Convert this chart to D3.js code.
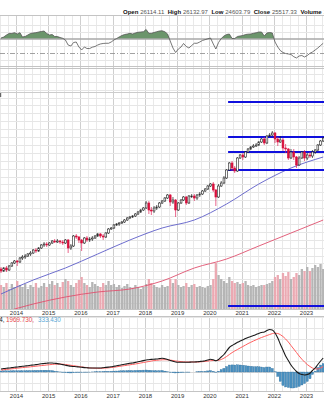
<!DOCTYPE html>
<html><head><meta charset="utf-8">
<script src="https://cdn.jsdelivr.net/npm/d3@7"></script>
<style>body{margin:0;background:#fff;overflow:hidden}svg{display:block}</style>
</head><body><svg id="c" width="324" height="400"></svg>
<script>
// ---------- DATA (monthly, Jul 2013 .. Jul 2023) ----------
const firstMonth = [2013, 6];
const opens = [12300,12100,12400,12200,12600,12900,13100,13000,13400,13500,
13600,13800,13900,14200,14100,14400,14700,14800,14700,14900,
15100,15000,15100,15000,14900,15200,14400,14600,15600,15500,
15200,14900,15400,15200,15300,15400,15600,15800,15600,15500,
15900,16300,16400,16700,16800,16900,17000,17200,17400,17500,
17600,17800,18000,18200,18400,18900,18200,18100,18400,18500,
18900,19100,19400,19700,19000,19200,18200,18900,19200,19500,
18900,19600,19600,19400,19700,19800,20100,20300,20600,20800,
20200,19500,20600,20900,21400,22200,22900,22400,22100,23400,
23700,23500,24000,24300,24500,24600,24700,25000,25300,24900,
25600,25700,25900,25300,25000,25200,24400,24300,23400,24000,
23500,22700,23400,24000,23400,23700,23600,24000,24200,24700,
25100];
const highs = [12500,12500,12600,12700,13000,13200,13200,13500,13700,13800,
13900,14100,14300,14400,14500,14800,15000,15000,15000,15200,
15300,15300,15200,15200,15300,15300,14800,15700,15800,15600,
15300,15500,15600,15500,15600,15700,15900,15900,15800,16000,
16400,16500,16800,16900,17000,17100,17300,17500,17600,17700,
17900,18100,18300,18500,19100,19100,18500,18600,18700,19000,
19200,19500,19800,19800,19500,19300,19000,19300,19600,19600,
19700,19800,19800,19800,20000,20200,20400,20700,20900,21000,
20300,20800,21100,21600,22300,23000,23100,22600,23500,23800,
23900,24100,24400,24600,24800,24900,25100,25400,25500,25700,
25900,26100,26000,25500,25600,25400,24800,24400,24300,24300,
23600,23600,24100,24200,23900,24000,24200,24300,24800,25200,
25500];
const lows = [11900,12000,12000,12100,12500,12800,12600,12900,13200,13300,
13500,13600,13800,13900,14000,14300,14500,14500,14600,14800,
14900,14900,14800,14700,14800,13900,14200,14500,15300,14900,
14100,14800,15000,15000,15100,15300,15500,15400,15200,15400,
15800,16200,16300,16600,16600,16800,16900,17100,17300,17400,
17500,17700,17900,18100,18300,17800,17700,17900,18200,18400,
18800,19000,19300,18600,18800,17500,18100,18800,19100,18700,
18800,19400,19100,19200,19500,19700,20000,20200,20500,20000,
18600,19400,20500,20800,21300,22100,22100,21900,22000,23300,
23200,23400,23900,24200,24400,24500,24600,24900,24700,24800,
25500,25600,24900,24600,24900,24100,23900,23200,23300,23200,
22400,22600,23300,23100,23200,23400,23400,23800,24100,24600,
25000];
const closes = [12100,12400,12200,12600,12900,13100,13000,13400,13500,13600,
13800,13900,14200,14100,14400,14700,14800,14700,14900,15100,
15000,15100,15000,14900,15200,14400,14600,15600,15500,15200,
14900,15400,15200,15300,15400,15600,15800,15600,15500,15900,
16300,16400,16700,16800,16900,17000,17200,17400,17500,17600,
17800,18000,18200,18400,18900,18200,18100,18400,18500,18900,
19100,19400,19700,19000,19200,18200,18900,19200,19500,18900,
19600,19600,19400,19700,19800,20100,20300,20600,20800,20200,
19500,20600,20900,21400,22200,22900,22400,22100,23400,23700,
23500,24000,24300,24500,24600,24700,25000,25300,24900,25600,
25700,25900,25300,25000,25200,24400,24300,23400,24000,23500,
22700,23400,24000,23400,23700,23600,24000,24200,24700,25100,
25400];
const volumes = [240,220,260,200,250,220,
280,240,220,250,200,240,220,260,210,230,260,220,
250,280,240,260,220,270,300,280,240,220,260,290,
320,260,240,220,270,250,230,220,260,240,280,240,
250,220,240,210,230,250,220,210,240,220,200,220,
250,300,260,240,220,210,240,220,230,300,260,300,
240,220,230,260,220,240,250,220,230,220,210,230,
240,300,460,340,300,280,260,320,280,260,270,250,
260,280,240,230,240,220,230,240,240,250,260,280,
320,340,300,360,330,370,300,320,360,340,400,380,
420,380,410,440,420,450,400];
// moving averages read at yearly points (month index)
const maIndex = [0,12,24,36,48,60,72,84,96,108,120];
const maBlue  = [9800,11200,12400,13800,15200,16400,17200,18800,20800,22400,23500];
const maRed   = [7900,8800,9500,10000,10300,11100,12400,13300,14600,15900,17200];
// horizontal level lines
const levels = [29000,25500,24000,22200];
const levelStart = [2020,7], levelEnd = [2023,8];
const volumeLevel = 30;
// upper indicator
const osc = [51.4,52.9,55.7,57.9,57.9,59.0,57.1,59.0,52.9,53.6,
55.7,57.9,58.6,59.0,60.0,60.7,61.4,57.9,55.7,56.4,
53.6,53.6,52.1,51.0,48.6,41.4,40.0,45.0,45.7,38.6,
34.3,38.6,36.4,36.4,38.3,39.3,41.4,42.9,43.6,43.9,
43.9,45.7,48.6,50.7,52.9,55.0,56.4,57.1,58.1,57.1,
58.6,59.6,60.0,60.4,63.6,58.1,58.1,59.3,60.4,61.4,
61.7,60.4,57.1,47.1,37.1,30.7,35.7,38.6,43.6,39.3,
37.1,40.7,43.9,43.9,45.7,47.9,49.1,50.3,51.4,42.9,
35.7,45.0,50.7,54.3,56.4,57.1,50.7,50.7,53.6,54.3,
55.0,56.4,56.9,57.1,58.1,58.9,60.0,60.0,54.3,58.6,
59.3,58.6,45.7,38.6,33.6,30.7,29.3,28.6,27.9,24.7,
22.9,25.7,26.4,24.3,26.4,29.6,31.4,34.3,37.1,40.7,
43.9];
const oscMid = 50, oscLow = 30, oscGrid = [70,60,40,20];
// MACD
const macd = [150,175,190,200,220,240,250,270,285,300,
315,335,350,370,390,410,425,440,450,450,
435,420,400,370,340,310,285,275,265,250,
235,220,210,200,200,200,200,200,215,230,
245,260,285,310,335,360,385,410,435,450,
480,510,540,570,600,615,630,640,650,670,
690,660,620,575,535,500,490,490,490,490,
490,500,500,510,525,540,560,600,640,610,
560,625,750,875,1050,1225,1325,1400,1485,1550,
1610,1670,1720,1770,1820,1875,1930,1975,2000,2075,
2125,2100,1950,1700,1400,1100,800,575,350,175,
25,-75,-125,-150,-125,-65,75,200,375,550,
700];
const signal = [100,115,130,145,160,175,190,205,220,235,
245,260,275,290,305,320,335,350,365,380,
390,395,395,390,375,355,335,315,295,275,
255,235,220,205,195,190,185,185,190,200,
210,225,240,260,280,300,320,340,360,380,
400,425,450,475,500,525,550,570,585,600,
610,615,610,595,575,550,535,520,510,500,
500,500,500,500,505,515,530,545,565,575,
575,585,625,690,775,875,970,1050,1125,1200,
1275,1350,1420,1485,1550,1610,1670,1725,1775,1825,
1875,1920,1940,1925,1870,1775,1650,1500,1325,1150,
975,800,640,500,375,275,200,160,150,200,
275];
const hist = [50,60,60,55,60,65,60,65,65,65,
70,75,75,80,85,90,90,90,85,70,
45,25,5,-20,-35,-45,-50,-40,-30,-25,
-20,-15,-10,-5,5,10,15,15,25,30,
35,35,45,50,55,60,65,70,75,70,
80,85,90,95,100,90,80,70,65,70,
80,45,10,-20,-40,-50,-45,-30,-20,-10,
-10,0,0,10,20,25,30,55,75,35,
-15,40,125,185,275,350,355,350,360,350,
335,320,300,285,270,265,260,250,225,250,
250,180,10,-225,-470,-675,-750,-775,-800,-800,
-775,-725,-650,-575,-475,-340,-125,40,225,350,
425];
const macdLegend = ["2303.164,", "1969.730,", "333.430"];
const headerLabels = ["Open","High","Low","Close","Volume"];
const headerValues = ["26114.11","26132.97","24603.79","25517.33","1.1B"];

// ---------- DRAW ----------
const svg = d3.select("#c");
const W = 324;
const n = closes.length;
const dates = closes.map((_, i) => new Date(firstMonth[0], firstMonth[1] + i, 15));
const x = d3.scaleTime().domain([new Date(2014,0,1), new Date(2023,0,1)]).range([16,306]);
const yP = d3.scaleLinear().domain([8300,32500]).range([309,67]);
const yV = d3.scaleLinear().domain([0,1000]).range([309,209]);
const yR = d3.scaleLinear().domain([10,85]).range([67,14.5]);
const yM = d3.scaleLinear().domain([-900,2800]).range([390,316]);
const font = "Liberation Sans, Arial, sans-serif";

svg.append("rect").attr("width",W).attr("height",400).attr("fill","#fff");

const panels = [[15,67],[67,309],[316,391]];
const quarters = d3.timeMonth.every(3).range(x.invert(-10), x.invert(W+10));
const grid = svg.append("g").attr("shape-rendering","crispEdges");
panels.forEach(([t,b]) => {
  grid.append("g").selectAll("line").data(quarters).join("line")
    .attr("x1", d => Math.round(x(d))+0.5).attr("x2", d => Math.round(x(d))+0.5)
    .attr("y1", t).attr("y2", b)
    .attr("stroke", d => d.getMonth()===0 ? "#cfcfcf" : "#e9e9e9");
});
// horizontal grids
const priceGrid = d3.range(25500 - 790*22, 32500, 790);
grid.append("g").selectAll("line").data(priceGrid.filter(v=>yP(v)>68 && yP(v)<308)).join("line")
  .attr("x1",0).attr("x2",W).attr("y1",d=>Math.round(yP(d))+0.5).attr("y2",d=>Math.round(yP(d))+0.5)
  .attr("stroke","#e6e6e6");
grid.append("line").attr("x1",0).attr("x2",W).attr("y1",92.5).attr("y2",92.5).attr("stroke","#cccccc");
grid.append("g").selectAll("line").data(oscGrid).join("line")
  .attr("x1",0).attr("x2",W).attr("y1",d=>Math.round(yR(d))+0.5).attr("y2",d=>Math.round(yR(d))+0.5)
  .attr("stroke","#e6e6e6");
const macdGrid = d3.range(-550, 2800, 550);
grid.append("g").selectAll("line").data(macdGrid).join("line")
  .attr("x1",0).attr("x2",W).attr("y1",d=>Math.round(yM(d))+0.5).attr("y2",d=>Math.round(yM(d))+0.5)
  .attr("stroke", d => d===0 ? "#d8d8d8" : "#e6e6e6");
// panel borders
[15.5, 66.5, 68.5, 309.5, 316.5, 391.5].forEach(y => {
  grid.append("line").attr("x1",0).attr("x2",W).attr("y1",y).attr("y2",y).attr("stroke","#c4c4c4");
});

// ---------- upper oscillator ----------
const up = svg.append("g");
svg.append("clipPath").attr("id","aboveMid").append("rect")
  .attr("x",0).attr("y",0).attr("width",W).attr("height",yR(oscMid));
up.append("path").datum(d3.range(n))
  .attr("clip-path","url(#aboveMid)")
  .attr("d", d3.area().x(i=>x(dates[i])).y0(yR(oscMid)).y1(i=>yR(osc[i])))
  .attr("fill","#6b956b");
up.append("line").attr("x1",0).attr("x2",W).attr("y1",yR(oscMid)).attr("y2",yR(oscMid))
  .attr("stroke","#a8a8a8").attr("stroke-width",1.6);
up.append("line").attr("x1",0).attr("x2",W).attr("y1",Math.round(yR(oscLow))+0.5).attr("y2",Math.round(yR(oscLow))+0.5)
  .attr("stroke","#8a8a8a").attr("stroke-width",0.8).attr("stroke-dasharray","5,2,1,2");
up.append("path").datum(d3.range(n))
  .attr("d", d3.line().x(i=>x(dates[i])).y(i=>yR(osc[i])))
  .attr("fill","none").attr("stroke","#555").attr("stroke-width",0.8);

// ---------- main price panel ----------
svg.append("clipPath").attr("id","mainClip").append("rect")
  .attr("x",0).attr("y",69).attr("width",W).attr("height",240);
const main = svg.append("g").attr("clip-path","url(#mainClip)");
const step = x(dates[1]) - x(dates[0]);
main.append("g").selectAll("rect").data(d3.range(n)).join("rect")
  .attr("x", i => x(dates[i]) - step*0.42).attr("width", step*0.84)
  .attr("y", i => yV(volumes[i])).attr("height", i => yV(0) - yV(volumes[i]))
  .attr("fill", i => closes[i] < opens[i] ? "#eba9b2" : "#b5b5b5");
main.append("line")
  .attr("x1", x(new Date(levelStart[0], levelStart[1], 1))).attr("x2", x(new Date(levelEnd[0], levelEnd[1], 1)))
  .attr("y1", yV(volumeLevel)).attr("y2", yV(volumeLevel))
  .attr("stroke","#1010dd").attr("stroke-width",2);
const maLine = vals => d3.line().curve(d3.curveMonotoneX)
  .x((d,k)=>x(dates[maIndex[k]])).y(d=>yP(d))(vals);
main.append("path").attr("d", maLine(maRed)).attr("fill","none").attr("stroke","#e0506e").attr("stroke-width",0.9);
main.append("path").attr("d", maLine(maBlue)).attr("fill","none").attr("stroke","#5d5dc8").attr("stroke-width",0.9);
main.append("g").selectAll("line").data(levels).join("line")
  .attr("x1", x(new Date(levelStart[0], levelStart[1], 1))).attr("x2", x(new Date(levelEnd[0], levelEnd[1], 1)))
  .attr("y1", d=>yP(d)).attr("y2", d=>yP(d))
  .attr("stroke","#1010dd").attr("stroke-width",2);
const down = i => closes[i] < opens[i];
main.append("g").selectAll("line").data(d3.range(n)).join("line")
  .attr("x1", i=>x(dates[i])).attr("x2", i=>x(dates[i]))
  .attr("y1", i=>yP(highs[i])).attr("y2", i=>yP(lows[i]))
  .attr("stroke", i=> down(i) ? "#e0245a" : "#222").attr("stroke-width",0.7);
main.append("g").selectAll("rect").data(d3.range(n)).join("rect")
  .attr("x", i=>x(dates[i]) - 0.9).attr("width", 1.8)
  .attr("y", i=>yP(Math.max(opens[i],closes[i])))
  .attr("height", i=>Math.max(0.8, Math.abs(yP(opens[i]) - yP(closes[i]))))
  .attr("fill", i=> down(i) ? "#d8103c" : "#fff")
  .attr("stroke", i=> down(i) ? "#d8103c" : "#222").attr("stroke-width",0.6);
svg.append("rect").attr("x",0).attr("y",93).attr("width",1.2).attr("height",4).attr("fill","#666");

// ---------- MACD ----------
svg.append("clipPath").attr("id","macdClip").append("rect")
  .attr("x",0).attr("y",317).attr("width",W).attr("height",74);
const mg = svg.append("g").attr("clip-path","url(#macdClip)");
mg.append("g").selectAll("rect").data(d3.range(n)).join("rect")
  .attr("x", i=>x(dates[i]) - step*0.4).attr("width", step*0.8)
  .attr("y", i=>Math.min(yM(0), yM(hist[i]))).attr("height", i=>Math.abs(yM(hist[i]) - yM(0)))
  .attr("fill","#4a90c0").attr("stroke","#2e6e9c").attr("stroke-width",0.3);
mg.append("path").datum(d3.range(n))
  .attr("d", d3.line().curve(d3.curveMonotoneX).x(i=>x(dates[i])).y(i=>yM(signal[i])))
  .attr("fill","none").attr("stroke","#ff5f5f").attr("stroke-width",1);
mg.append("path").datum(d3.range(n))
  .attr("d", d3.line().curve(d3.curveMonotoneX).x(i=>x(dates[i])).y(i=>yM(macd[i])))
  .attr("fill","none").attr("stroke","#1a1a1a").attr("stroke-width",1.1);
const lg = svg.append("text").attr("y",322).attr("font-family",font).attr("font-size",6.3);
lg.append("tspan").attr("x",4.5).attr("text-anchor","end").attr("fill","#222").text(macdLegend[0]);
svg.append("text").attr("x",6).attr("y",322).attr("font-family",font).attr("font-size",6.3)
  .attr("fill","#e8484c").text(macdLegend[1]);
svg.append("text").attr("x",38).attr("y",322).attr("font-family",font).attr("font-size",6.3)
  .attr("fill","#5aa8d8").text(macdLegend[2]);

// ---------- axes ----------
[314.5, 398].forEach(yy => {
  const ax = svg.append("g").attr("transform",`translate(0,${yy-6})`)
    .call(d3.axisBottom(x).ticks(d3.timeYear.every(1)).tickFormat(d3.timeFormat("%Y")).tickSize(0));
  ax.select(".domain").remove();
  ax.selectAll("text").attr("font-family",font).attr("font-size",6).attr("fill","#333").attr("dy",0).attr("y",6);
});

// ---------- header ----------
const hdr = svg.append("text").attr("x",123).attr("y",14).attr("font-family",font).attr("font-size",6.0);
headerLabels.forEach((lab,k) => {
  hdr.append("tspan").attr("dx", k===0?0:3.5).attr("font-weight","bold").attr("fill","#111").text(lab);
  hdr.append("tspan").attr("dx",1.8).attr("fill","#555").text(headerValues[k]);
});
</script></body></html>
